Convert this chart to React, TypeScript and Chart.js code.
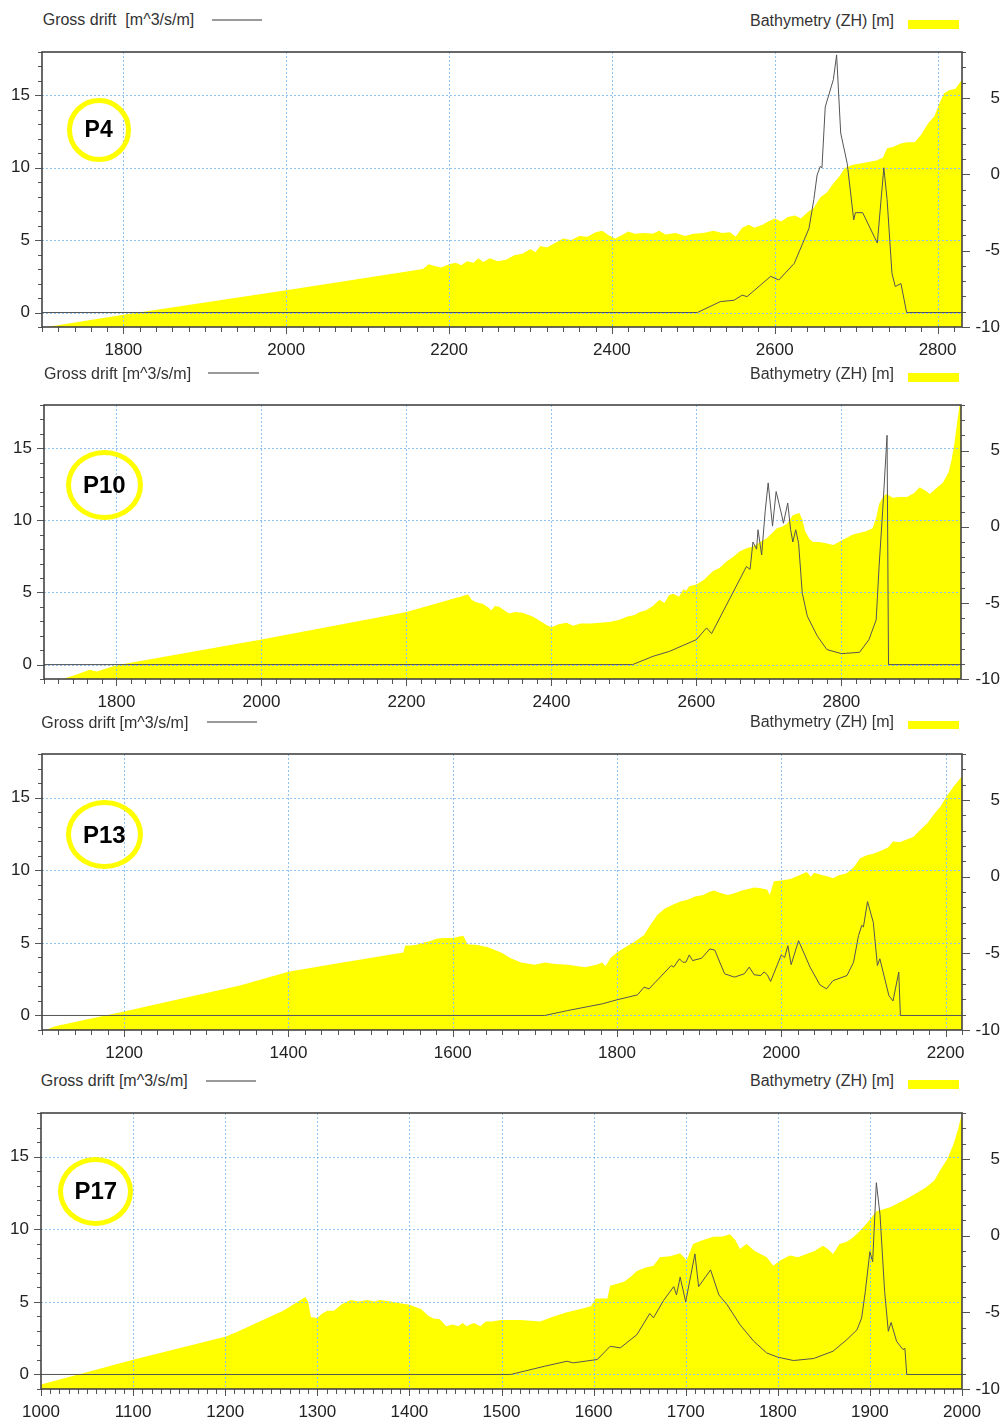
import React, { useEffect, useRef } from 'react';
import { Chart, registerables } from 'chart.js';

Chart.register(...registerables);

type Pt = [number, number];

// ---------- DATA ----------
const p4Bathymetry: Pt[] = [
  [1700, -10.05], [1800, -9.2], [2000, -7.6], [2168, -6.2], [2175, -5.9], [2182, -6.0], [2190, -6.1], [2200, -5.9],
  [2208, -5.8], [2215, -5.95], [2222, -5.7], [2230, -5.8], [2236, -5.5], [2242, -5.75], [2250, -5.5], [2260, -5.7],
  [2270, -5.6], [2280, -5.3], [2290, -5.2], [2300, -4.9], [2306, -5.1], [2312, -4.7], [2320, -4.8], [2330, -4.5],
  [2340, -4.2], [2350, -4.3], [2360, -4.05], [2370, -4.1], [2380, -3.8], [2388, -3.7], [2396, -4.0], [2404, -4.2],
  [2412, -4.0], [2420, -3.75], [2428, -3.9], [2440, -3.85], [2450, -3.9], [2458, -3.7], [2466, -3.95], [2478, -3.85],
  [2490, -4.05], [2500, -3.9], [2512, -3.85], [2525, -3.7], [2535, -3.85], [2545, -3.8], [2552, -4.1], [2560, -3.5],
  [2568, -3.3], [2575, -3.5], [2585, -3.3], [2592, -3.1], [2600, -2.9], [2608, -3.1], [2616, -2.8], [2625, -2.7],
  [2632, -2.9], [2640, -2.5], [2648, -2.2], [2656, -1.5], [2664, -1.2], [2672, -0.6], [2680, -0.1], [2686, 0.4],
  [2695, 0.6], [2705, 0.7], [2715, 0.8], [2725, 0.9], [2733, 1.1], [2738, 1.7], [2746, 1.8], [2754, 2.0],
  [2762, 2.1], [2772, 2.1], [2780, 2.6], [2788, 3.3], [2796, 3.8], [2802, 4.6], [2808, 5.3], [2814, 5.5],
  [2822, 5.6], [2830, 6.2],
];
const p4Drift: Pt[] = [
  [1700, 0], [2505, 0], [2533, 0.75], [2550, 0.85], [2560, 1.2], [2566, 1.1], [2595, 2.5], [2605, 2.25],
  [2624, 3.4], [2642, 5.8], [2648, 7.8], [2652, 9.5], [2656, 10.1], [2658, 10.0], [2662, 14.2], [2672, 16.1],
  [2676, 17.8], [2681, 12.4], [2689, 10.3], [2697, 6.4], [2699, 6.9], [2708, 6.9], [2726, 4.8], [2734, 10.0],
  [2738, 7.8], [2744, 2.7], [2748, 1.8], [2755, 2.0], [2762, 0], [2830, 0],
];

const p10Bathymetry: Pt[] = [
  [1700, -10.3], [1726, -10], [1745, -9.7], [1763, -9.4], [1773, -9.5], [1800, -9.1], [2000, -7.4], [2168, -5.9],
  [2200, -5.6], [2285, -4.45], [2290, -4.8], [2296, -4.95], [2305, -5.05], [2313, -5.3], [2317, -5.5], [2322, -5.2],
  [2328, -5.25], [2335, -5.5], [2342, -5.7], [2350, -5.6], [2360, -5.65], [2374, -5.9], [2385, -6.2], [2395, -6.5],
  [2400, -6.6], [2410, -6.4], [2421, -6.3], [2430, -6.5], [2440, -6.35], [2455, -6.35], [2467, -6.3], [2480, -6.25],
  [2494, -6.1], [2505, -5.9], [2515, -5.8], [2522, -5.6], [2530, -5.5], [2540, -5.2], [2549, -4.8], [2556, -5.0],
  [2562, -4.5], [2568, -4.4], [2576, -4.6], [2582, -4.1], [2586, -4.2], [2590, -3.9], [2600, -3.8], [2610, -3.5],
  [2623, -2.9], [2632, -2.7], [2641, -2.3], [2650, -2.0], [2660, -1.6], [2670, -1.4], [2678, -1.3], [2688, -1.0],
  [2697, -0.75], [2705, -0.4], [2711, -0.1], [2718, 0.0], [2725, 0.2], [2733, 0.75], [2742, 0.9], [2746, 0.5],
  [2750, -0.3], [2756, -0.8], [2761, -1.0], [2770, -1.0], [2780, -1.1], [2789, -1.2], [2800, -0.9], [2816, -0.5],
  [2834, -0.3], [2843, -0.1], [2848, 0.6], [2852, 1.5], [2858, 2.0], [2862, 2.15], [2871, 1.9], [2880, 1.95],
  [2890, 1.95], [2900, 2.2], [2908, 2.6], [2915, 2.4], [2922, 2.15], [2930, 2.5], [2940, 2.9], [2948, 3.6],
  [2952, 4.4], [2956, 5.5], [2959, 6.6], [2963, 8.0], [2965, 8.0],
];
const p10Drift: Pt[] = [
  [1700, 0], [2512, 0], [2540, 0.57], [2563, 0.92], [2600, 1.73], [2614, 2.54], [2621, 2.15], [2669, 6.8],
  [2674, 6.6], [2678, 8.5], [2683, 8.0], [2685, 9.35], [2690, 7.6], [2695, 10.7], [2699, 12.6], [2705, 9.6],
  [2710, 12.0], [2718, 10.3], [2720, 9.8], [2726, 11.2], [2730, 9.35], [2733, 8.5], [2737, 9.35], [2741, 8.4],
  [2746, 4.97], [2753, 3.35], [2767, 1.96], [2780, 1.04], [2800, 0.76], [2825, 0.85], [2838, 1.73], [2848, 3.1],
  [2852, 6.8], [2857, 10.7], [2863, 15.9], [2865, 0], [2965, 0],
];

const p13Bathymetry: Pt[] = [
  [1100, -10.1], [1116, -9.75], [1200, -8.8], [1341, -7.1], [1400, -6.2], [1455, -5.7], [1540, -4.95], [1542, -4.5],
  [1555, -4.45], [1565, -4.3], [1573, -4.2], [1580, -4.05], [1589, -4.0], [1600, -4.0], [1608, -3.9], [1613, -3.85],
  [1618, -4.4], [1630, -4.45], [1643, -4.6], [1652, -4.8], [1659, -4.95], [1670, -5.3], [1683, -5.6], [1700, -5.75],
  [1712, -5.6], [1725, -5.7], [1740, -5.75], [1761, -5.9], [1775, -5.75], [1782, -5.6], [1786, -5.85], [1792, -5.3],
  [1800, -4.95], [1810, -4.6], [1820, -4.3], [1833, -3.8], [1840, -3.2], [1849, -2.5], [1858, -2.1], [1869, -1.8],
  [1878, -1.6], [1886, -1.5], [1895, -1.3], [1905, -1.2], [1912, -1.0], [1918, -0.9], [1925, -1.05], [1935, -1.2],
  [1942, -1.1], [1952, -0.9], [1960, -0.8], [1967, -0.7], [1975, -0.75], [1983, -0.85], [1986, -1.2], [1991, -0.3],
  [2000, -0.25], [2011, -0.15], [2020, 0.05], [2031, 0.3], [2036, 0.0], [2040, 0.25], [2050, 0.1], [2058, 0.0],
  [2063, -0.1], [2070, 0.1], [2079, 0.2], [2088, 0.6], [2096, 1.2], [2104, 1.4], [2112, 1.5], [2122, 1.7],
  [2130, 1.9], [2136, 2.3], [2144, 2.25], [2152, 2.4], [2161, 2.6], [2170, 3.1], [2178, 3.5], [2185, 4.0],
  [2194, 4.6], [2202, 5.3], [2210, 5.9], [2220, 6.55],
];
const p13Drift: Pt[] = [
  [1100, 0], [1712, 0], [1740, 0.34], [1782, 0.8], [1800, 1.08], [1825, 1.42], [1833, 1.95], [1839, 1.83],
  [1866, 3.44], [1869, 3.33], [1876, 3.9], [1880, 3.67], [1884, 3.67], [1888, 4.17], [1892, 3.78], [1903, 3.94],
  [1913, 4.58], [1919, 4.5], [1931, 2.87], [1943, 2.64], [1955, 2.87], [1961, 3.33], [1967, 2.8], [1975, 2.75],
  [1979, 3.0], [1983, 2.8], [1987, 2.34], [2000, 4.17], [2004, 3.98], [2008, 4.8], [2012, 3.5], [2021, 5.15],
  [2035, 3.33], [2047, 2.11], [2055, 1.83], [2063, 2.4], [2080, 2.75], [2088, 3.67], [2094, 5.5], [2098, 6.2],
  [2100, 6.1], [2105, 7.84], [2112, 6.41], [2117, 3.44], [2120, 3.9], [2131, 1.37], [2136, 1.0], [2143, 2.98],
  [2145, 0], [2220, 0],
];

const p17Bathymetry: Pt[] = [
  [1000, -9.7], [1100, -8.1], [1200, -6.6], [1212, -6.3], [1241, -5.5], [1263, -4.9], [1287, -4.0], [1290, -4.3],
  [1293, -5.3], [1300, -5.37], [1305, -5.1], [1311, -4.9], [1318, -4.9], [1327, -4.45], [1336, -4.2], [1345, -4.3],
  [1354, -4.2], [1362, -4.3], [1368, -4.2], [1380, -4.3], [1390, -4.4], [1400, -4.5], [1413, -4.8], [1420, -5.2],
  [1426, -5.4], [1433, -5.45], [1440, -5.9], [1447, -5.8], [1453, -5.9], [1458, -5.7], [1462, -5.9], [1470, -5.7],
  [1477, -5.9], [1483, -5.6], [1490, -5.6], [1499, -5.5], [1521, -5.5], [1542, -5.6], [1555, -5.3], [1571, -5.0],
  [1585, -4.8], [1597, -4.6], [1602, -4.1], [1615, -4.1], [1618, -3.26], [1633, -3.0], [1640, -2.7], [1647, -2.3],
  [1656, -2.1], [1665, -1.96], [1672, -1.4], [1683, -1.35], [1694, -1.15], [1701, -1.6], [1708, -0.55], [1718, -0.3],
  [1730, -0.07], [1740, -0.05], [1748, 0.1], [1754, -0.3], [1759, -0.87], [1766, -0.55], [1775, -1.0], [1788, -1.4],
  [1795, -1.96], [1803, -1.6], [1813, -1.3], [1822, -1.4], [1831, -1.2], [1840, -1.0], [1849, -0.65], [1855, -0.9],
  [1860, -1.2], [1867, -0.55], [1875, -0.4], [1882, -0.1], [1889, 0.3], [1896, 0.76], [1902, 1.2], [1907, 1.6],
  [1914, 1.7], [1922, 1.85], [1930, 2.1], [1940, 2.4], [1950, 2.75], [1961, 3.15], [1970, 3.6], [1976, 4.24],
  [1984, 5.0], [1991, 6.0], [1996, 7.0], [2000, 8.0],
];
const p17Drift: Pt[] = [
  [1000, 0], [1510, 0], [1547, 0.57], [1571, 0.91], [1578, 0.8], [1604, 1.03], [1618, 1.94], [1629, 1.83],
  [1647, 2.74], [1661, 4.2], [1665, 3.9], [1676, 5.1], [1687, 6.05], [1690, 5.48], [1694, 6.7], [1700, 5.0],
  [1710, 8.3], [1714, 6.05], [1727, 7.2], [1736, 5.48], [1745, 4.8], [1759, 3.42], [1774, 2.28], [1788, 1.48],
  [1800, 1.19], [1817, 0.96], [1839, 1.1], [1860, 1.6], [1875, 2.4], [1886, 3.08], [1891, 3.88], [1895, 5.7],
  [1900, 8.45], [1903, 7.76], [1907, 13.2], [1911, 11.0], [1916, 5.7], [1920, 2.97], [1923, 3.58], [1929, 2.28],
  [1936, 1.71], [1938, 1.8], [1940, 0], [2000, 0],
];

const profileLabels = ['P4', 'P10', 'P13', 'P17'];
const driftLegendLabels = ['Gross drift  [m^3/s/m]', 'Gross drift [m^3/s/m]', 'Gross drift [m^3/s/m]', 'Gross drift [m^3/s/m]'];
const bathyLegendLabel = 'Bathymetry (ZH) [m]';
const xRanges: Pt[] = [[1700, 2830], [1700, 2965], [1100, 2220], [1000, 2000]];
const xMajorSteps = [200, 200, 200, 100];
const xMinorSteps = [20, 20, 20, 10];
const driftRange: Pt = [-1, 18];
const bathyRange: Pt = [-10, 8];

// ---------- LAYOUT ----------
const W = 1003;
const FONT = '"Liberation Sans", Arial, Helvetica, sans-serif';
const PAD_TOP = 8;
const PAD_R = 3;
const XH = 40;

interface PanelCfg {
  label: string;
  driftLabel: string;
  bathy: Pt[];
  drift: Pt[];
  xr: Pt;
  major: number;
  minor: number;
  plot: { l: number; r: number; t: number; b: number };
  gross: { x: number; cy: number };
  gline: { x1: number; x2: number; y: number };
  bleg: { x: number; cy: number };
  rect: { x1: number; x2: number; y1: number; y2: number };
  circle: { cx: number; cy: number; rx: number; ry: number; fs: number };
}

const geom = [
  {
    plot: { l: 42, r: 962, t: 52, b: 327 },
    gross: { x: 42.7, cy: 20.3 }, gline: { x1: 211.7, x2: 261.7, y: 20 },
    bleg: { x: 750, cy: 21.2 }, rect: { x1: 908, x2: 959, y1: 20, y2: 29.3 },
    circle: { cx: 98.7, cy: 129.5, rx: 32, ry: 32, fs: 23 },
  },
  {
    plot: { l: 44, r: 961, t: 405, b: 679 },
    gross: { x: 44, cy: 373.7 }, gline: { x1: 208, x2: 259, y: 373.3 },
    bleg: { x: 750, cy: 373.7 }, rect: { x1: 908, x2: 959, y1: 372.7, y2: 381.7 },
    circle: { cx: 104.3, cy: 484.5, rx: 38.3, ry: 35, fs: 24 },
  },
  {
    plot: { l: 42, r: 962, t: 754, b: 1030 },
    gross: { x: 41.3, cy: 723 }, gline: { x1: 206.7, x2: 257.3, y: 722.3 },
    bleg: { x: 750, cy: 722 }, rect: { x1: 908, x2: 959, y1: 720.7, y2: 729.3 },
    circle: { cx: 104.3, cy: 834.7, rx: 38.3, ry: 34.7, fs: 24 },
  },
  {
    plot: { l: 41, r: 962, t: 1113, b: 1389 },
    gross: { x: 40.7, cy: 1081.3 }, gline: { x1: 206, x2: 256, y: 1080.7 },
    bleg: { x: 750, cy: 1080.5 }, rect: { x1: 908, x2: 959, y1: 1080, y2: 1089 },
    circle: { cx: 95.8, cy: 1191.2, rx: 37.5, ry: 34.5, fs: 24 },
  },
];

const bathySeries = [p4Bathymetry, p10Bathymetry, p13Bathymetry, p17Bathymetry];
const driftSeries = [p4Drift, p10Drift, p13Drift, p17Drift];

const panels: PanelCfg[] = profileLabels.map((label, i) => ({
  label,
  driftLabel: driftLegendLabels[i],
  bathy: bathySeries[i],
  drift: driftSeries[i],
  xr: xRanges[i],
  major: xMajorSteps[i],
  minor: xMinorSteps[i],
  ...geom[i],
}));

const zeroPad = (s: any) => {
  s.paddingTop = 0;
  s.paddingBottom = 0;
  s.paddingLeft = 0;
  s.paddingRight = 0;
};

function Panel({ cfg }: { cfg: PanelCfg }) {
  const ref = useRef<HTMLCanvasElement>(null);
  const H = PAD_TOP + (cfg.plot.b - cfg.plot.t) + XH;

  useEffect(() => {
    if (!ref.current) return;
    const decor = {
      id: 'decor',
      afterDatasetDraw(chart: any, args: any) {
        if (args.index !== 1) return;
        const { ctx, chartArea: a } = chart;
        const xs = chart.scales.x;
        const ys = chart.scales.y;
        ctx.save();
        ctx.strokeStyle = '#8fc3f2';
        ctx.lineWidth = 1;
        ctx.setLineDash([2, 2]);
        xs.ticks.forEach((t: any) => {
          const px = Math.round(xs.getPixelForValue(t.value)) + 0.5;
          if (px <= a.left + 1 || px >= a.right - 1) return;
          ctx.beginPath();
          ctx.moveTo(px, a.top);
          ctx.lineTo(px, a.bottom);
          ctx.stroke();
        });
        ys.ticks.forEach((t: any) => {
          const py = Math.round(ys.getPixelForValue(t.value)) + 0.5;
          if (py <= a.top + 1 || py >= a.bottom - 1) return;
          ctx.beginPath();
          ctx.moveTo(a.left, py);
          ctx.lineTo(a.right, py);
          ctx.stroke();
        });
        ctx.restore();
      },
      afterDraw(chart: any) {
        const { ctx, chartArea: a } = chart;
        const xs = chart.scales.x;
        const ys = chart.scales.y;
        const y1 = chart.scales.y1;
        ctx.save();
        ctx.strokeStyle = '#555';
        ctx.lineWidth = 1;
        const x0 = Math.ceil(cfg.xr[0] / cfg.minor) * cfg.minor;
        for (let v = x0; v <= cfg.xr[1] + 1e-6; v += cfg.minor) {
          const px = Math.round(xs.getPixelForValue(v)) + 0.5;
          const len = Math.round(v) % cfg.major === 0 ? 7 : 5;
          ctx.beginPath();
          ctx.moveTo(px, a.bottom);
          ctx.lineTo(px, a.bottom + len);
          ctx.stroke();
        }
        for (let v = driftRange[0]; v <= driftRange[1]; v += 1) {
          const py = Math.round(ys.getPixelForValue(v)) + 0.5;
          const len = v % 5 === 0 ? 7 : 4;
          ctx.beginPath();
          ctx.moveTo(a.left - len, py);
          ctx.lineTo(a.left, py);
          ctx.stroke();
        }
        for (let v = bathyRange[0]; v <= bathyRange[1]; v += 1) {
          const py = Math.round(y1.getPixelForValue(v)) + 0.5;
          const len = v % 5 === 0 ? 8 : 4;
          ctx.beginPath();
          ctx.moveTo(a.right, py);
          ctx.lineTo(a.right + len, py);
          ctx.stroke();
        }
        ctx.strokeStyle = '#444';
        ctx.lineWidth = 1.6;
        ctx.strokeRect(a.left, a.top, a.right - a.left, a.bottom - a.top);
        ctx.restore();
      },
    };

    const tickFont = { family: FONT, size: 17 };
    const chart = new Chart(ref.current, {
      type: 'line',
      data: {
        datasets: [
          {
            label: 'Gross drift',
            data: cfg.drift.map(([x, y]) => ({ x, y })),
            yAxisID: 'y',
            borderColor: '#555555',
            borderWidth: 1,
            pointRadius: 0,
            fill: false,
            tension: 0,
            order: 1,
          },
          {
            label: 'Bathymetry',
            data: cfg.bathy.map(([x, y]) => ({ x, y })),
            yAxisID: 'y1',
            borderColor: 'rgba(0,0,0,0)',
            borderWidth: 0,
            backgroundColor: '#ffff00',
            pointRadius: 0,
            fill: 'start',
            tension: 0,
            order: 2,
          },
        ],
      } as any,
      plugins: [decor],
      options: {
        animation: false,
        responsive: false,
        maintainAspectRatio: false,
        events: [],
        layout: { padding: { top: PAD_TOP, right: PAD_R, left: 0, bottom: 0 } },
        plugins: { legend: { display: false }, tooltip: { enabled: false } },
        scales: {
          x: {
            type: 'linear',
            position: 'bottom',
            min: cfg.xr[0],
            max: cfg.xr[1],
            grid: { display: false, drawTicks: false },
            border: { display: false },
            ticks: {
              stepSize: cfg.major,
              includeBounds: false,
              autoSkip: false,
              maxRotation: 0,
              padding: 13,
              font: tickFont,
              color: '#222',
              callback: (v: any) => String(v),
            },
            afterFit: (s: any) => { s.height = XH; zeroPad(s); },
          },
          y: {
            type: 'linear',
            position: 'left',
            min: driftRange[0],
            max: driftRange[1],
            grid: { display: false, drawTicks: false },
            border: { display: false },
            ticks: {
              stepSize: 5,
              includeBounds: false,
              padding: 12,
              font: tickFont,
              color: '#222',
              callback: (v: any) => String(v),
            },
            afterFit: (s: any) => { s.width = cfg.plot.l; zeroPad(s); },
          },
          y1: {
            type: 'linear',
            position: 'right',
            min: bathyRange[0],
            max: bathyRange[1],
            grid: { display: false, drawTicks: false },
            border: { display: false },
            ticks: {
              stepSize: 5,
              includeBounds: false,
              crossAlign: 'far',
              padding: 12,
              font: tickFont,
              color: '#222',
              callback: (v: any) => String(v),
            },
            afterFit: (s: any) => { s.width = W - PAD_R - cfg.plot.r; zeroPad(s); },
          },
        },
      } as any,
    });
    return () => chart.destroy();
  }, [cfg]);

  const c = cfg.circle;
  const textStyle: React.CSSProperties = {
    position: 'absolute',
    fontFamily: FONT,
    fontSize: 16,
    lineHeight: '16px',
    color: '#333',
    whiteSpace: 'pre',
  };
  return (
    <>
      <canvas
        ref={ref}
        width={W}
        height={H}
        style={{ position: 'absolute', left: 0, top: cfg.plot.t - PAD_TOP, width: W, height: H, display: 'block' }}
      />
      <div style={{ ...textStyle, left: cfg.gross.x, top: cfg.gross.cy - 8 }}>{cfg.driftLabel}</div>
      <div
        style={{
          position: 'absolute', left: cfg.gline.x1, top: cfg.gline.y - 1,
          width: cfg.gline.x2 - cfg.gline.x1, height: 2, background: '#9a9a9a',
        }}
      />
      <div style={{ ...textStyle, left: cfg.bleg.x, top: cfg.bleg.cy - 8 }}>{bathyLegendLabel}</div>
      <div
        style={{
          position: 'absolute', left: cfg.rect.x1, top: cfg.rect.y1,
          width: cfg.rect.x2 - cfg.rect.x1, height: cfg.rect.y2 - cfg.rect.y1, background: '#ffff00',
        }}
      />
      <div
        style={{
          position: 'absolute',
          left: c.cx - c.rx,
          top: c.cy - c.ry,
          width: c.rx * 2,
          height: c.ry * 2,
          boxSizing: 'border-box',
          border: '5px solid #ffff00',
          borderRadius: '50%',
          display: 'flex',
          alignItems: 'center',
          justifyContent: 'center',
          fontFamily: FONT,
          fontWeight: 'bold',
          fontSize: c.fs,
          color: '#000',
        }}
      >
        {cfg.label}
      </div>
    </>
  );
}

export default function App() {
  return (
    <div style={{ position: 'absolute', left: 0, top: 0, width: W, height: 1421, background: '#fff', overflow: 'hidden' }}>
      {panels.map((p) => (
        <Panel key={p.label} cfg={p} />
      ))}
    </div>
  );
}
